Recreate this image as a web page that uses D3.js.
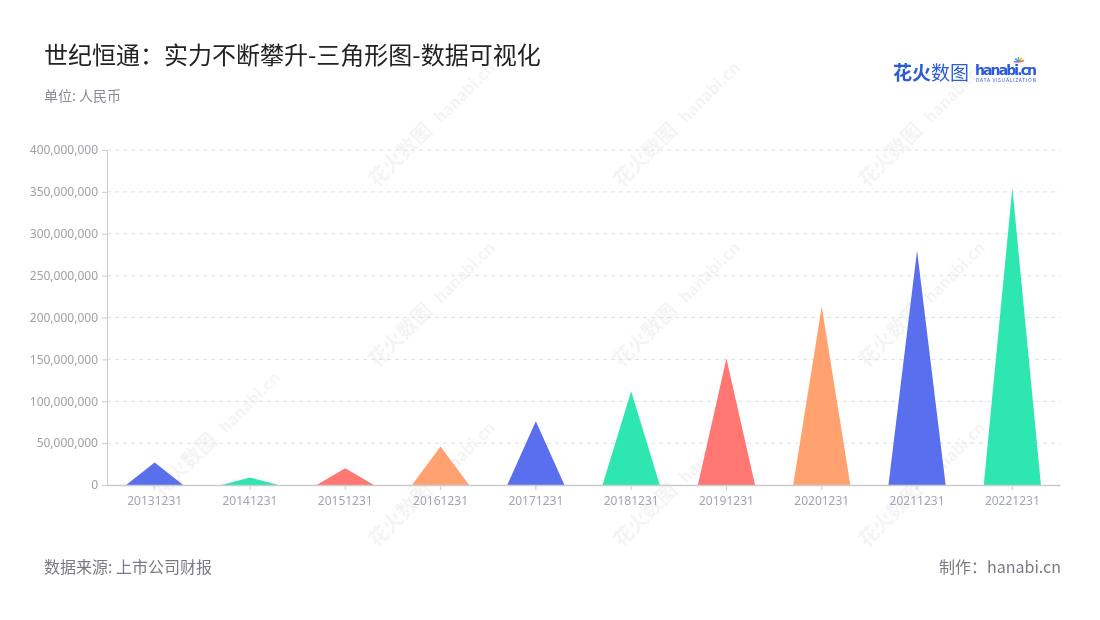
<!DOCTYPE html>
<html><head><meta charset="utf-8">
<script src="https://cdn.jsdelivr.net/npm/d3@7"></script>
<style>body{margin:0;background:#fff;} svg{display:block;font-family:"Noto Sans CJK SC","Noto Sans",sans-serif;}</style>
</head><body><svg id="c" width="1100" height="620"></svg>
<script>
const categories = ["20131231","20141231","20151231","20161231","20171231","20181231","20191231","20201231","20211231","20221231"];
const values = [27000000, 9000000, 20000000, 46000000, 76000000, 112000000, 151000000, 213000000, 280000000, 355000000];
const colors = ["#5A6FEE","#2DE6B0","#FF7672","#FFA270"];
const yTicks = [0,50000000,100000000,150000000,200000000,250000000,300000000,350000000,400000000];

const svg = d3.select("#c");
const m = {l:107, r:1060, t:150, b:485};

// watermarks
const wm = svg.append("g").attr("fill","#000").attr("opacity",0.045);
const wmPos = [[405,160],[650,160],[895,160],[405,340],[650,340],[895,340],[405,520],[650,520],[895,520],[190,470]];
wmPos.forEach(([x,y])=>{
  const g = wm.append("g").attr("transform",`translate(${x},${y}) rotate(-45)`);
  g.append("text").attr("font-size",20).attr("font-weight","bold").attr("text-anchor","middle").text("花火数图");
  g.append("text").attr("x",90).attr("font-size",16).attr("font-weight","bold").attr("text-anchor","middle").text("hanabi.cn");
});

const x = d3.scaleBand().domain(categories).range([m.l,m.r]).paddingInner(0).paddingOuter(0);
const y = d3.scaleLinear().domain([0,400000000]).range([m.b,m.t]);

// grid
svg.append("g").selectAll("line").data(yTicks.slice(1)).join("line")
  .attr("x1",m.l).attr("x2",m.r).attr("y1",d=>y(d)).attr("y2",d=>y(d))
  .attr("stroke","#e0e0e0").attr("stroke-dasharray","4,4");

// triangles
const bw = x.bandwidth()*0.6;
svg.append("g").selectAll("path").data(values).join("path")
  .attr("d",(d,i)=>{
    const cx = x(categories[i])+x.bandwidth()/2;
    return `M${cx-bw/2},${y(0)}L${cx},${y(d)}L${cx+bw/2},${y(0)}Z`;
  })
  .attr("fill",(d,i)=>colors[i%4]);

// y axis
const ya = svg.append("g").attr("transform",`translate(${m.l},0)`)
  .call(d3.axisLeft(y).tickValues(yTicks).tickSize(5).tickPadding(4).tickFormat(d3.format(",")));
ya.select(".domain").attr("stroke","#ccc");
ya.selectAll(".tick line").attr("stroke","#ccc");
ya.selectAll("text").attr("fill","#a0a0a8").attr("font-size",12).attr("font-family","'Noto Sans',sans-serif");

// x axis
const xa = svg.append("g").attr("transform",`translate(0,${m.b})`)
  .call(d3.axisBottom(x).tickSize(5).tickPadding(6).tickSizeOuter(0));
xa.select(".domain").attr("stroke","#ccc").attr("stroke-width",1.5);
xa.selectAll(".tick line").attr("stroke","#ccc");
xa.selectAll("text").attr("fill","#a0a4b4").attr("font-size",12).attr("font-family","'Noto Sans',sans-serif");

// title
svg.append("text").attr("x",44).attr("y",64).attr("font-size",24).attr("fill","#222").text("世纪恒通：实力不断攀升-三角形图-数据可视化");
svg.append("text").attr("x",44).attr("y",101).attr("font-size",14).attr("fill","#8a8a96").text("单位: 人民币");

// footer
svg.append("text").attr("x",44).attr("y",573).attr("font-size",16).attr("fill","#7a7a86").text("数据来源: 上市公司财报");
svg.append("text").attr("x",1061).attr("y",573).attr("text-anchor","end").attr("font-size",16).attr("fill","#7a7a86").text("制作：hanabi.cn");

// logo
const lg = svg.append("g");
lg.append("text").attr("x",893).attr("y",80).attr("font-size",19).attr("font-weight","bold").attr("fill","#2B5BD7").text("花火");
lg.append("text").attr("x",931).attr("y",80).attr("font-size",19).attr("fill","#2B5BD7").text("数图");
lg.append("text").attr("x",975).attr("y",75).attr("font-size",14).attr("font-weight","bold").attr("fill","#2B5BD7").attr("font-family","'DejaVu Sans',sans-serif").attr("textLength",62).text("hanabi.cn");
lg.append("text").attr("x",976).attr("y",82).attr("font-size",5).attr("fill","#2B5BD7").attr("textLength",60).text("DATA VISUALIZATION");
const sp = [["#f55",0],["#fb0",40],["#3c6",80],["#39f",120],["#a5f",160]];
sp.forEach(([c,a])=>lg.append("line").attr("x1",1019).attr("y1",62).attr("x2",1019+5*Math.cos(-a*Math.PI/180-0.3)).attr("y2",62+5*Math.sin(-a*Math.PI/180-0.3)).attr("stroke",c).attr("stroke-width",1.5));
</script></body></html>
